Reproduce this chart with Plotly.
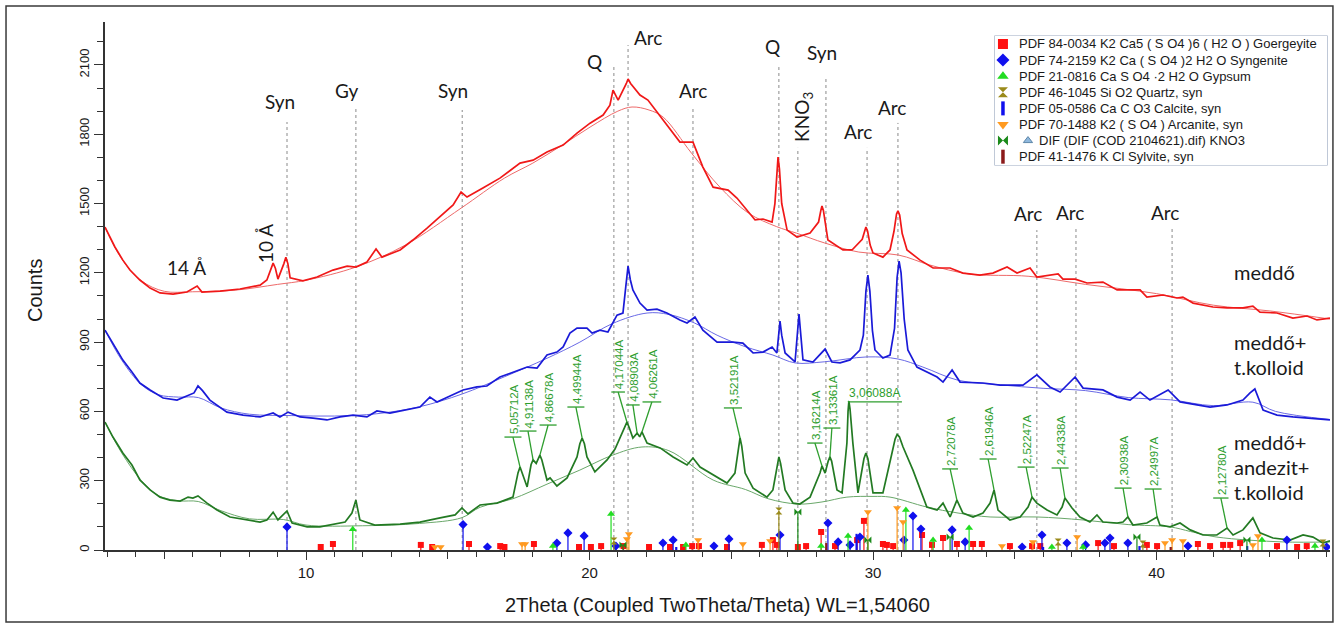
import plotly.graph_objects as go

# ---------------- data ----------------
red_x = [2.91, 3.26, 3.54, 3.79, 4.14, 4.50, 4.85, 5.31, 5.80, 6.16, 6.33, 6.97, 7.67, 8.38, 8.62, 8.78, 8.84, 8.92, 9.01, 9.22,
         9.29, 9.36, 9.44, 9.89,
         10.39, 10.95, 11.45, 11.76, 12.15, 12.47, 12.68, 13.32, 13.77, 14.27, 14.73, 15.19, 15.47, 15.68, 16.24, 16.84, 17.55,
         18.01, 18.50, 19.07, 19.56, 20.02, 20.48, 20.72, 20.83, 21.01, 21.30, 21.36, 21.45, 21.68, 21.78, 22.06, 22.59, 23.19,
         23.65, 24.00, 24.36, 24.89, 25.20, 25.84, 26.12, 26.44, 26.54, 26.61, 26.65, 26.70, 26.78, 26.97, 27.32, 27.78, 28.08,
         28.16, 28.20, 28.25, 28.33, 28.41, 28.94, 29.26, 29.62, 29.70, 29.75, 29.81, 29.90, 30.00, 30.35, 30.60, 30.74, 30.83,
         30.88, 30.94, 31.03, 31.20, 31.66, 32.12, 32.72, 33.17, 33.77, 34.23,
         34.73, 35.08, 35.54, 35.78, 36.53, 36.70, 37.13, 37.55, 38.11, 38.61, 39.42, 39.66, 40.23, 40.72, 40.93, 41.29, 41.99,
         42.49, 43.05, 43.40, 43.65, 44.25, 44.81, 45.31, 45.66, 46.12]
red_y = [1398, 1312, 1255, 1212, 1169, 1134, 1113, 1108, 1117, 1143, 1117, 1121, 1130, 1147, 1169, 1220, 1242, 1220, 1173, 1240,
         1268, 1240, 1178, 1165,
         1182, 1212, 1229, 1225, 1247, 1303, 1268, 1299, 1342, 1394, 1442, 1494, 1550, 1528, 1567, 1610, 1675,
         1688, 1723, 1753, 1805, 1848, 1883, 1926, 1991, 1948, 2020, 2039, 2020, 1983, 1970, 1948, 1861, 1766,
         1766, 1658, 1571, 1558, 1524, 1429, 1433, 1420, 1500, 1640, 1701, 1650, 1500, 1385, 1355, 1372, 1420,
         1470, 1489, 1470, 1400, 1342, 1299, 1299, 1345, 1385, 1398, 1380, 1320, 1286, 1268, 1299, 1380, 1455,
         1468, 1450, 1370, 1299, 1255, 1221, 1221, 1199, 1190, 1199,
         1225, 1199, 1221, 1182, 1195, 1173, 1173, 1156, 1160, 1126, 1126, 1095, 1104, 1091, 1095, 1069, 1052,
         1048, 1048, 1056, 1030, 1026, 1004, 1013, 996, 1004]

red_bg_x = [2.91, 3.5, 4.2, 5.0, 6.0, 7.5, 9.0, 10.0, 11.76, 13.5, 15.47, 17.0, 18.0, 19.0, 20.02, 21.0, 21.5, 22.1, 22.6,
            23.6, 24.6, 25.6, 26.6, 27.3, 28.3, 29.5, 30.9, 32.0, 33.4, 35.5, 37.5, 40.0, 42.0, 44.0, 46.12]
red_bg_y = [1398, 1260, 1165, 1120, 1118, 1125, 1150, 1168, 1225, 1320, 1480, 1610, 1675, 1750, 1831, 1900, 1918, 1905, 1874,
            1718, 1571, 1459, 1400, 1372, 1329, 1290, 1277, 1234, 1195, 1185, 1150, 1110, 1060, 1035, 1000]

blue_x = [2.91, 3.19, 3.54, 3.86, 4.14, 4.50, 4.96, 5.45, 5.91, 6.05, 6.19, 6.35, 6.61, 7.21, 7.78, 8.38, 8.84, 9.08, 9.37,
          9.79, 10.25, 10.74, 11.20, 11.66, 12.15, 12.50, 12.96, 13.56, 14.02, 14.37, 14.62, 15.08, 15.54, 16.03, 16.38,
          16.84, 17.30, 17.80, 18.15, 18.50, 18.85, 19.07, 19.31, 19.56, 19.91, 20.09, 20.37, 20.65, 20.97, 21.18, 21.28,
          21.36, 21.44, 21.53, 21.78, 22.03, 22.38, 22.73, 23.19, 23.44, 23.72, 24.00, 24.50, 25.06, 25.41, 25.77, 26.12,
          26.44, 26.61, 26.68, 26.72, 26.78, 26.90, 27.25, 27.35, 27.39, 27.44, 27.53, 27.88, 28.31, 28.55, 28.84, 29.19,
          29.54, 29.66, 29.75, 29.82, 29.89, 29.98, 30.07, 30.35, 30.60, 30.76, 30.85, 30.92, 30.99, 31.10, 31.23, 31.55,
          32.01, 32.26, 32.47, 32.79, 33.07, 33.88, 34.48, 35.29, 35.78, 36.24,
          36.60, 37.13, 37.41, 38.11, 38.61, 39.07, 39.42, 39.77, 40.41, 40.83, 41.43, 41.89, 42.49, 43.05, 43.30, 43.47,
          43.76, 44.25, 44.81, 45.41, 46.12]
blue_y = [952, 896, 822, 771, 723, 693, 658, 649, 671, 680, 710, 690, 649, 597, 584, 576, 593, 576, 597,
          576, 571, 563, 576, 584, 576, 602, 593, 606, 619, 662, 641, 667, 693, 706, 710,
          749, 771, 792, 788, 844, 857, 879, 939, 961, 961, 939, 952, 944, 1017, 1026, 1140,
          1229, 1170, 1126, 1069, 1039, 1043, 1026, 996, 983, 1009, 952, 900, 900, 896, 853, 857,
          879, 853, 950, 991, 930, 853, 814, 960, 1022, 950, 823, 814, 870, 814, 810, 823,
          866, 930, 1120, 1190, 1120, 950, 866, 831, 844, 960, 1180, 1251, 1200, 1000, 866, 792,
          766, 749, 727, 779, 727, 723, 714, 714, 758, 706,
          684, 749, 701, 693, 662, 649, 684, 649, 693, 641, 628, 619, 628, 649, 680, 697,
          606, 584, 576, 571, 563]

blue_bg_x = [2.91, 3.5, 4.2, 4.8, 5.5, 6.2, 7.0, 8.0, 9.5, 11.0, 12.5, 14.0, 15.5, 17.0, 18.5, 19.66, 20.8, 22.03, 22.8,
             23.7, 24.5, 25.5, 26.47, 27.25, 28.3, 29.79, 30.88, 31.76, 33.0, 34.5, 36.0, 37.5, 39.0, 40.5, 42.0, 43.4,
             44.2, 46.12]
blue_bg_y = [952, 822, 715, 672, 662, 660, 615, 588, 582, 580, 590, 620, 675, 750, 830, 900, 980, 1026, 1020,
             983, 930, 880, 844, 810, 815, 836, 827, 792, 735, 715, 700, 690, 660, 650, 625, 640,
             600, 565]

green_x = [2.91, 3.19, 3.54, 3.86, 4.14, 4.50, 4.85, 5.20, 5.56, 5.84, 6.01, 6.19, 6.51, 6.86, 7.32, 7.92, 8.38, 8.62, 8.84,
           9.01, 9.33, 9.51, 10.04, 10.49, 10.85, 11.38, 11.62, 11.76, 11.90, 12.43, 13.32, 14.02, 14.73, 15.26, 15.50,
           15.71, 16.14, 16.74, 17.30, 17.48, 17.55, 17.62, 17.80, 17.94, 18.01, 18.12, 18.20, 18.25, 18.32, 18.50, 18.61,
           18.85, 19.21, 19.56, 19.66, 19.74, 19.82, 19.91, 20.19, 20.62, 20.90, 21.08, 21.25, 21.32, 21.40, 21.53, 21.68,
           21.77, 21.85, 22.03, 22.49, 22.95, 23.44, 23.65, 23.90, 24.36, 24.85, 25.13, 25.25, 25.31, 25.37, 25.49, 25.77,
           26.26, 26.47, 26.62, 26.68, 26.74, 26.90, 27.18, 27.42, 27.78, 28.13, 28.20, 28.31, 28.42, 28.48, 28.54, 28.73,
           28.91, 29.08, 29.12, 29.15, 29.19, 29.29, 29.47, 29.68, 29.75, 29.82, 30.00, 30.35, 30.67, 30.78, 30.85, 30.93,
           31.06, 31.41, 31.90, 32.26, 32.47,
           32.72, 32.96, 33.17, 33.53, 33.88, 34.13, 34.27, 34.41, 34.83, 35.19, 35.47, 35.61, 35.78, 36.14, 36.49, 36.67,
           36.77, 37.02, 37.30, 37.65, 37.90, 38.11, 38.61, 38.82, 38.99, 39.17, 39.66, 40.02, 40.12, 40.48, 40.83, 41.19,
           41.64, 42.13, 42.49, 42.70, 43.05, 43.40, 43.65, 44.11, 44.71, 45.17, 45.52, 45.87, 46.12]
green_y = [554, 489, 420, 368, 303, 260, 229, 216, 212, 229, 225, 234, 203, 173, 143, 130, 121, 130, 164,
           130, 169, 117, 100, 100, 108, 121, 160, 216, 130, 108, 112, 121, 139, 152, 182,
           156, 195, 203, 229, 335, 359, 335, 273, 370, 390, 375, 400, 411, 390, 303, 312,
           277, 312, 403, 460, 485, 460, 403, 338, 390, 437, 489, 535, 554, 530, 485, 506,
           490, 511, 463, 442, 403, 368, 398, 359, 325, 290, 333, 450, 485, 450, 333, 268,
           229, 260, 375, 403, 375, 260, 203, 199, 229, 333, 364, 333, 385, 403, 385, 260,
           247, 463, 600, 645, 610, 463, 247, 395, 420, 395, 247, 247, 420, 480, 500, 490,
           446, 346, 186, 173, 203,
           143, 216, 160, 143, 160, 203, 260, 173, 130, 143, 186, 229, 203, 173, 152, 186,
           225, 182, 143, 121, 152, 121, 117, 121, 143, 108, 117, 143, 108, 100, 117, 87,
           65, 65, 95, 65, 87, 139, 74, 52, 43, 65, 56, 30, 40]

green_bg_x = [2.91, 3.5, 4.2, 4.8, 5.5, 6.2, 7.0, 8.0, 9.2, 10.0, 12.0, 14.0, 15.5, 16.14, 17.3, 18.5, 19.66, 20.8, 21.85,
              22.8, 24.36, 25.5, 26.3, 27.35, 28.2, 29.08, 30.0, 30.6, 31.9, 33.0, 34.13, 35.78, 37.41, 39.0, 40.48, 41.2,
              42.13, 44.46, 46.12]
green_bg_y = [554, 420, 300, 235, 213, 210, 170, 135, 132, 108, 105, 115, 140, 185, 222, 285, 346, 410, 446,
              430, 303, 262, 222, 199, 208, 229, 232, 229, 186, 160, 143, 143, 130, 110, 100, 80,
              56, 35, 35]

# reference-pattern sticks (2theta, height in counts)
goer_x = [10.52, 10.95, 14.05, 14.45, 15.75, 16.85, 17.0, 18.04, 19.63, 20.05, 20.41, 21.20, 22.10, 22.84, 23.30, 23.62,
          23.86, 24.85, 26.08, 26.47, 26.61, 27.35, 27.64, 28.17, 28.66, 29.44, 29.68, 30.35, 30.49, 30.71, 31.73, 32.08,
          32.47, 32.96, 33.53, 33.84, 34.83, 35.61, 35.90, 37.94, 38.50, 39.66, 40.02, 41.46, 41.89, 42.35, 42.60, 42.95,
          44.25, 44.96, 45.30]
goer_h = [13, 26, 22, 13, 26, 17, 13, 26, 13, 13, 17, 17, 13, 13, 13, 17,
          17, 13, 22, 43, 22, 13, 17, 78, 17, 43, 126, 26, 22, 17, 65, 22,
          52, 26, 26, 26, 17, 17, 17, 30, 17, 22, 17, 26, 17, 22, 22, 30,
          17, 13, 17]
syng_x = [9.33, 15.54, 16.40, 18.85, 19.24, 19.81, 20.93, 22.59, 22.95, 24.39, 24.92, 26.72, 28.41, 28.77, 29.19, 29.54,
          31.09, 31.41, 31.69, 32.79, 33.25, 35.26, 35.96, 36.84, 37.50, 38.18, 38.36, 38.99, 41.11, 44.60, 46.0]
syng_h = [100, 110, 13, 30, 74, 61, 17, 30, 43, 17, 48, 65, 117, 35, 22, 56,
          43, 147, 91, 87, 35, 13, 65, 30, 22, 30, 52, 30, 17, 43, 13]
gyp_x = [11.65, 18.71, 20.76, 23.40, 28.17, 29.12, 31.16, 32.12, 33.39, 36.31, 37.41, 43.72, 45.59]
gyp_h = [90, 17, 156, 22, 17, 61, 173, 43, 95, 13, 13, 43, 17]
qtz_x = [20.86, 26.68, 36.53, 39.52, 45.87]
qtz_h = [39, 169, 35, 26, 30]
calc_x = [23.06, 29.42, 36.0, 39.4, 43.2]
calc_h = [13, 70, 13, 17, 17]
arc_x = [14.55, 14.75, 17.62, 17.73, 21.32, 21.39, 23.83, 25.41, 26.37, 29.82, 30.85, 31.06, 34.55, 35.64, 37.20, 40.30,
         40.55, 40.93, 43.40, 43.58]
arc_h = [13, 13, 26, 26, 48, 69, 43, 26, 39, 165, 182, 121, 17, 35, 56, 30,
         43, 39, 22, 61]
kno3_x = [21.18, 27.35, 29.82, 32.72, 39.31, 43.19]
kno3_h = [22, 165, 43, 56, 56, 43]
sylv_x = [28.35, 40.50]
sylv_h = [30, 13]

legend_labels = [
    "PDF 84-0034 K2 Ca5 ( S O4 )6 ( H2 O ) Goergeyite",
    "PDF 74-2159 K2 Ca ( S O4 )2 H2 O Syngenite",
    "PDF 21-0816 Ca S O4 \u00b72 H2 O Gypsum",
    "PDF 46-1045 Si O2 Quartz, syn",
    "PDF 05-0586 Ca C O3 Calcite, syn",
    "PDF 70-1488 K2 ( S O4 ) Arcanite, syn",
    "DIF (DIF (COD 2104621).dif) KNO3",
    "PDF 41-1476 K Cl Sylvite, syn",
]

# phase identification lines
ref_x = [9.33, 11.76, 15.51, 20.86, 21.36, 23.65, 26.68, 27.35, 28.34, 29.79, 30.88, 35.78, 37.16, 40.55]
ref_top = [1853, 1914, 1905, 2100, 2186, 1914, 2091, 1741, 2048, 1741, 1849, 1385, 1394, 1394]
ref_text = ["Syn", "Gy", "Syn", "Q", "Arc", "Arc", "Q", "KNO<sub>3</sub>", "Syn", "Arc", "Arc", "Arc", "Arc", "Arc"]
ref_lab_x = [9.08, 11.45, 15.19, 20.16, 22.06, 23.65, 26.47, 27.53, 28.20, 29.47, 30.67, 35.47, 36.95, 40.30]
ref_lab_y = [1940, 1991, 1991, 2113, 2217, 1991, 2178, 1875, 2152, 1810, 1918, 1459, 1463, 1463]

# d-spacing labels on the green pattern
d_text = ["5,05712A", "4,91138A", "4,86678A", "4,49944A", "4,17044A", "4,08903A", "4,06261A", "3,52191A",
          "3,16214A", "3,13361A", "3,06088A", "2,72078A", "2,61946A", "2,52247A", "2,44338A", "2,30938A",
          "2,24997A", "2,12780A"]
d_peak_x = [17.55, 18.01, 18.25, 19.74, 21.32, 21.68, 21.85, 25.31, 28.20, 28.48, 29.15, 32.96, 34.27, 35.61, 36.77,
            38.99, 40.02, 42.49]
d_peak_y = [359, 390, 411, 485, 554, 506, 511, 485, 364, 403, 645, 216, 260, 229, 225, 143, 143, 95]
d_bar_x = [17.30, 17.83, 18.54, 19.52, 21.01, 21.53, 22.20, 25.06, 27.95, 28.55, 30.07, 32.72, 34.06, 35.40, 36.60,
           38.82, 39.88, 42.27]
d_bar_y = [489, 515, 541, 619, 684, 628, 641, 615, 463, 528, 641, 351, 394, 359, 355, 268, 264, 225]
d_bar_half = [0.3, 0.3, 0.3, 0.3, 0.24, 0.24, 0.33, 0.32, 0.27, 0.3, 0.95, 0.28, 0.3, 0.3, 0.3, 0.3, 0.3, 0.27]

sample_names = ["medd\u0151", "medd\u0151+", "t.kolloid", "medd\u0151+", "andezit+", "t.kolloid"]
sample_y = [1203, 900, 792, 468, 359, 251]

x_label_ticks = [10, 20, 30, 40]
x_long_ticks = [5, 15, 25, 35, 45]
y_ticks = [0, 300, 600, 900, 1200, 1500, 1800, 2100]

# ---------------- figure ----------------
RED = "#f01818"
BLUE = "#1a1ad8"
GREEN = "#237a23"
LBLGREEN = "#2e9e2e"
CAL = "Lato"
ARIAL = "Liberation Sans"
XR = [2.91, 46.12]

fig = go.Figure()

# dotted identification lines
for x, top in zip(ref_x, ref_top):
    fig.add_trace(go.Scatter(x=[x, x], y=[0, top], mode="lines",
                             line=dict(color="#8a8a8a", width=1, dash="dot"),
                             hoverinfo="skip", showlegend=False))

# backgrounds and patterns
for bx, by, col in [(red_bg_x, red_bg_y, "#ee6a6a"), (blue_bg_x, blue_bg_y, "#6a6ae6"),
                    (green_bg_x, green_bg_y, "#6aa86a")]:
    fig.add_trace(go.Scatter(x=bx, y=by, mode="lines", line=dict(color=col, width=1, shape="spline", smoothing=1.0),
                             hoverinfo="skip", showlegend=False))
for px_, py_, col in [(red_x, red_y, RED), (blue_x, blue_y, BLUE), (green_x, green_y, GREEN)]:
    fig.add_trace(go.Scatter(x=px_, y=py_, mode="lines", line=dict(color=col, width=1.7),
                             showlegend=False))

# reference sticks
phases = [
    (goer_x, goer_h, "square", "#ff1010", 6, 1.2),
    (syng_x, syng_h, "diamond", "#1010ee", 7, 1.2),
    (gyp_x, gyp_h, "triangle-up", "#22dd22", 7, 1.2),
    (qtz_x, qtz_h, "hourglass", "#9a8a1a", 7, 1.2),
    (calc_x, calc_h, None, "#1010ee", 0, 2.2),
    (arc_x, arc_h, "triangle-down", "#ff9a20", 7, 1.2),
    (kno3_x, kno3_h, "bowtie", "#1a8a1a", 7, 1.2),
    (sylv_x, sylv_h, None, "#8b1a1a", 0, 2.2),
]
for xs, hs, sym, col, size, lw in phases:
    lx, ly = [], []
    for x, h in zip(xs, hs):
        lx += [x, x, None]
        ly += [0, h, None]
    fig.add_trace(go.Scatter(x=lx, y=ly, mode="lines", line=dict(color=col, width=lw),
                             hoverinfo="skip", showlegend=False))
    if sym:
        fig.add_trace(go.Scatter(x=xs, y=hs, mode="markers",
                                 marker=dict(symbol=sym, size=size, color=col, line=dict(width=0)),
                                 showlegend=False))

# d-spacing bars and leaders
for px_, py_, bx, by, bh in zip(d_peak_x, d_peak_y, d_bar_x, d_bar_y, d_bar_half):
    sx = bx if bh <= 0.4 else bx - bh
    fig.add_trace(go.Scatter(x=[bx - bh, bx + bh, None, sx, px_], y=[by, by, None, by, py_], mode="lines",
                             line=dict(color=LBLGREEN, width=1.3), hoverinfo="skip", showlegend=False))

annotations = []
for t, bx, by, bh in zip(d_text, d_bar_x, d_bar_y, d_bar_half):
    if bh > 0.4:
        annotations.append(dict(x=bx, y=by, xref="x", yref="y", text=t, showarrow=False, textangle=0,
                                xanchor="center", yanchor="bottom", yshift=0,
                                font=dict(family=ARIAL, size=12, color=LBLGREEN)))
    else:
        annotations.append(dict(x=bx, y=by, xref="x", yref="y", text=t, showarrow=False, textangle=-90,
                                xanchor="center", yanchor="bottom", xshift=1, yshift=1,
                                font=dict(family=ARIAL, size=11.5, color=LBLGREEN)))

for t, lx, ly in zip(ref_text, ref_lab_x, ref_lab_y):
    ang = -90 if "KNO" in t else 0
    annotations.append(dict(x=lx, y=ly, xref="x", yref="y", text=t, showarrow=False, textangle=ang,
                            xanchor="center", yanchor="middle", font=dict(family=CAL, size=19, color="#1a1a1a")))

annotations.append(dict(x=5.80, y=1225, xref="x", yref="y", text="14 \u00c5", showarrow=False,
                        font=dict(family=CAL, size=19, color="#1a1a1a")))
annotations.append(dict(x=8.55, y=1329, xref="x", yref="y", text="10 \u00c5", showarrow=False, textangle=-90,
                        font=dict(family=CAL, size=19, color="#1a1a1a")))
for t, sy in zip(sample_names, sample_y):
    annotations.append(dict(x=42.66, y=sy, xref="x", yref="y", text=t, showarrow=False, xanchor="left",
                            yanchor="middle", font=dict(family=CAL, size=20, color="#1a1a1a")))

# axis titles
annotations.append(dict(x=-0.0678, y=0.4924, xref="paper", yref="paper", text="Counts", showarrow=False,
                        textangle=-90, font=dict(family=ARIAL, size=20, color="#1a1a1a")))
annotations.append(dict(x=0.5, y=-0.104, xref="paper", yref="paper",
                        text="2Theta (Coupled TwoTheta/Theta) WL=1,54060", showarrow=False,
                        yanchor="middle", font=dict(family=ARIAL, size=20, color="#1a1a1a")))

# custom legend on a hidden sub-axis (pixel-like units inside the box)
leg_sym = [("square", "#ff1010"), ("diamond", "#1010ee"), ("triangle-up", "#22dd22"), ("hourglass", "#9a8a1a"),
           ("line-ns", "#1010ee"), ("triangle-down", "#ff9a20"), ("bowtie", "#1a8a1a"), ("line-ns", "#8b1a1a")]
for i, ((sym, col), lab) in enumerate(zip(leg_sym, legend_labels)):
    ry = 8 + 16.1 * i
    if sym == "line-ns":
        mk = dict(symbol=sym, size=10, color=col, line=dict(color=col, width=3.5))
    else:
        mk = dict(symbol=sym, size=10, color=col, line=dict(width=0))
    fig.add_trace(go.Scatter(x=[8], y=[ry], xaxis="x2", yaxis="y2", mode="markers", marker=mk,
                             hoverinfo="skip", showlegend=False))
    tx = 22
    if i == 6:
        fig.add_trace(go.Scatter(x=[33], y=[ry], xaxis="x2", yaxis="y2", mode="markers",
                                 marker=dict(symbol="triangle-up", size=8, color="#8fb8dd",
                                             line=dict(color="#5f88aa", width=1)),
                                 hoverinfo="skip", showlegend=False))
        tx = 42
    annotations.append(dict(x=tx, y=ry, xref="x2", yref="y2", text=lab, showarrow=False, xanchor="left",
                            yanchor="middle", font=dict(family=ARIAL, size=13, color="#1a1a1a")))

# invisible trace so the long-tick overlay axis is drawn
fig.add_trace(go.Scatter(x=XR, y=[0, 0], xaxis="x3", yaxis="y", mode="lines",
                         line=dict(width=0, color="rgba(0,0,0,0)"), hoverinfo="skip", showlegend=False))

shapes = [
    dict(type="rect", xref="paper", yref="paper", x0=-0.0808, x1=1.0024, y0=-0.1364, y1=1.0303,
         line=dict(color="#3a3a3a", width=1.5), fillcolor="rgba(0,0,0,0)", layer="below"),
    dict(type="rect", xref="paper", yref="paper", x0=0.7265, x1=0.9976, y0=0.7292, y1=0.9735,
         line=dict(color="#9aa8c0", width=1.2), fillcolor="white", layer="below"),
]

fig.update_layout(
    width=1338, height=627,
    margin=dict(l=105, r=8, t=22, b=77),
    paper_bgcolor="white", plot_bgcolor="white",
    showlegend=False,
    annotations=annotations,
    shapes=shapes,
    xaxis=dict(range=XR, tickmode="array", tickvals=x_label_ticks, ticks="outside", ticklen=8,
               tickwidth=1.2, tickcolor="#333", showline=True, linecolor="#333", linewidth=1.5, showgrid=False,
               zeroline=False, tickfont=dict(family=ARIAL, size=15, color="#1a1a1a"),
               minor=dict(tick0=0, dtick=1, ticks="outside", ticklen=5, tickcolor="#333", tickwidth=1.2,
                          showgrid=False)),
    xaxis3=dict(range=XR, overlaying="x", anchor="y", side="bottom", tickmode="array", tickvals=x_long_ticks,
                ticks="outside", ticklen=8, tickwidth=1.2, tickcolor="#333", showticklabels=False,
                showline=False, showgrid=False, zeroline=False, fixedrange=True),
    yaxis=dict(range=[0, 2286], tickmode="array", tickvals=y_ticks,
               ticks="outside", ticklen=9, tickwidth=1.2, tickcolor="#333", showline=True, linecolor="#333",
               linewidth=1.5, showgrid=False, zeroline=False, tickangle=-90,
               tickfont=dict(family=ARIAL, size=13, color="#1a1a1a"),
               minor=dict(tick0=0, dtick=100, ticks="outside", ticklen=6, tickcolor="#333", tickwidth=1.2,
                          showgrid=False)),
    xaxis2=dict(domain=[0.7265, 0.9976], range=[0, 332], anchor="y2", visible=False, fixedrange=True),
    yaxis2=dict(domain=[0.7292, 0.9735], range=[129, 0], anchor="x2", visible=False, fixedrange=True),
)

fig.write_html("out.html")
